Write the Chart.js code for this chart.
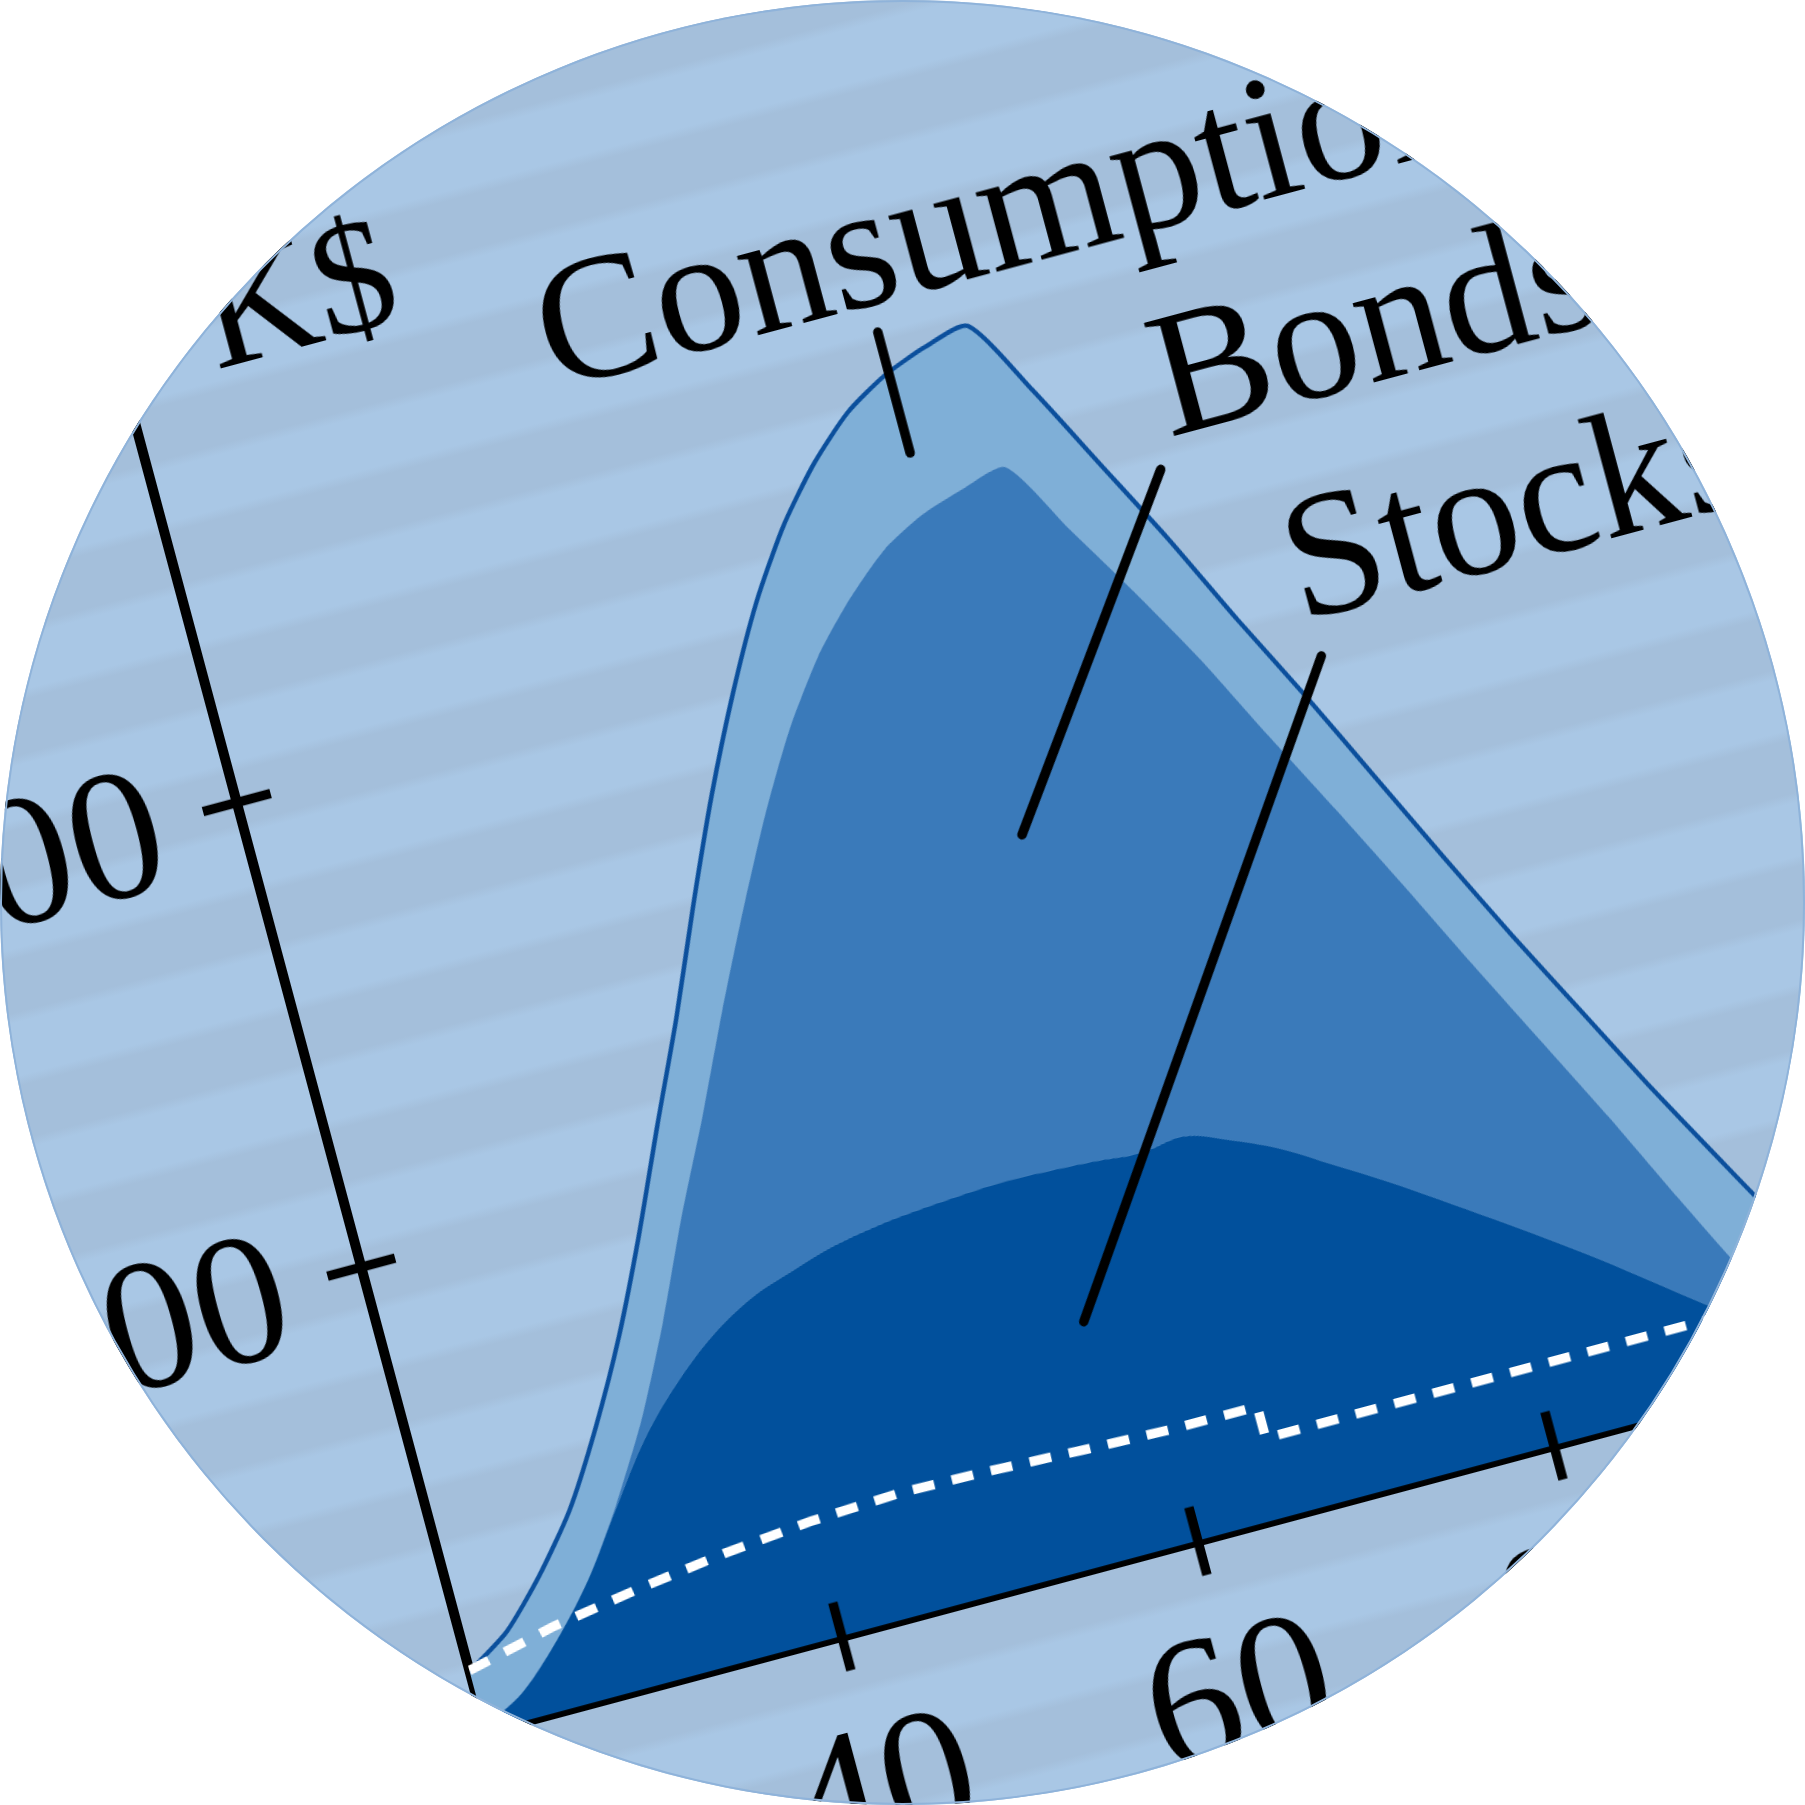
<!DOCTYPE html>
<html>
<head>
<meta charset="utf-8">
<title>Lifecycle wealth</title>
<script src="https://cdn.jsdelivr.net/npm/chart.js@4.4.0/dist/chart.umd.min.js"></script>
<style>
    html, body { margin: 0; padding: 0; background: #fff; }
    #disc {
        position: absolute; left: 0; top: 0;
        width: 1805px; height: 1805px;
        border-radius: 50%; overflow: hidden;
        background: #a6c3e0;
    }
    #frame {
        position: absolute; left: 0; top: 0;
        width: 2000px; height: 2050px;
        transform-origin: 0 0;
        transform: rotate(-15deg) translate(-300px, 0px);
        background: repeating-linear-gradient(180deg,
            #a9c7e5 0px, #a9c7e5 52px, #a4bfdb 62px, #a4bfdb 114px, #a9c7e5 124px);
    }
    #frame canvas { position: absolute; left: 0; top: 0; }
    #rim {
        position: absolute; left: 0; top: 0;
        width: 1805px; height: 1805px; box-sizing: border-box;
        border-radius: 50%; border: 2px solid #8fb3da;
    }
</style>
</head>
<body>
<div id="disc"><div id="frame"><canvas id="lifeChart" width="2000" height="2050"></canvas></div><div id="rim"></div></div>
<script>
// Ages (x axis)
const ages = [20, 22.5, 25, 27.5, 30, 32.5, 35, 37.5, 40, 42.5, 45, 47.5, 50, 52.5, 55, 57.5,
              60, 62.5, 65, 67.5, 70, 72.5, 75, 77.5, 80, 82.5, 85, 87.5, 90, 92.5, 95, 97.5, 100];

// Stacked layers, K$
const stocks = [1, 6, 14.5, 25, 38, 50.5, 60, 67.5, 72.8, 76, 78.8, 80.5, 81.5, 82.2, 82.6, 82.3,
                81.8, 81, 82, 78.5, 74, 68, 62, 55.5, 48.8, 42, 35, 27.5, 20, 13, 7, 3, 0];
const bonds = [0, 0, 0, 0, 0.5, 3.5, 12.5, 25.5, 39.2, 56, 72.2, 88.5, 103.5, 115.8, 125.4, 133.7,
               139.2, 143, 144, 131.5, 120, 109, 96, 84, 71.7, 59, 47, 35.5, 23, 11, 3, 0, 0];
const consumption = [12, 13, 14, 15, 16.5, 18, 19, 19.5, 21, 23, 25, 26, 27, 28, 29, 29.5,
                     30, 30.5, 30.4, 30, 27.5, 26, 25, 24.5, 23.5, 23, 22.5, 23, 24.5, 26, 23, 16, 7];

// Dashed income line
const incomeAges = [20, 25, 30, 35, 40, 45, 50, 55, 60, 65, 65, 70, 80, 90, 100, 105];
const income = [13.2, 17.5, 20.5, 23, 24.8, 25.7, 25.3, 24.5, 23.9, 23.8, 17, 17, 17, 17, 17, 17];

// Axis ticks
const xTicks = [40, 60, 80, 100];
const yTicks = [100, 200, 300];

// Labels with leader lines (age, K$)
const callouts = [
    { text: 'Consumption', at: [42.4, 265.8], from: [60.2, 260], to: [60.2, 234] },
    { text: 'Bonds', at: [74.0, 223.2], from: [73.1, 217.2], to: [60.7, 151.3] },
    { text: 'Stocks', at: [78.3, 179.1], from: [78.9, 171.1], to: [57.1, 50.2] }
];
const unitLabel = { text: 'K$', at: [25.0, 288] };

const serif = 'Liberation Serif';

function points(xs, ys) {
    return xs.map((x, i) => ({ x: x, y: ys[i] }));
}

// tick marks crossing the axes, leader lines and labels
const decorations = {
    id: 'decorations',
    afterDraw(chart) {
        const { ctx, chartArea, scales: { x, y } } = chart;
        ctx.save();
        ctx.strokeStyle = '#000';
        ctx.lineWidth = 9.5;
        xTicks.forEach(v => {
            const px = x.getPixelForValue(v);
            ctx.beginPath();
            ctx.moveTo(px, chartArea.bottom - 35);
            ctx.lineTo(px, chartArea.bottom + 35);
            ctx.stroke();
        });
        yTicks.forEach(v => {
            const py = y.getPixelForValue(v);
            ctx.beginPath();
            ctx.moveTo(chartArea.left - 35, py);
            ctx.lineTo(chartArea.left + 35, py);
            ctx.stroke();
        });

        ctx.lineWidth = 9.5;
        ctx.lineCap = 'round';
        ctx.fillStyle = '#000';
        ctx.textAlign = 'left';
        ctx.textBaseline = 'alphabetic';
        ctx.font = '178px "' + serif + '"';
        callouts.forEach(c => {
            ctx.beginPath();
            ctx.moveTo(x.getPixelForValue(c.from[0]), y.getPixelForValue(c.from[1]));
            ctx.lineTo(x.getPixelForValue(c.to[0]), y.getPixelForValue(c.to[1]));
            ctx.stroke();
            ctx.fillText(c.text, x.getPixelForValue(c.at[0]), y.getPixelForValue(c.at[1]));
        });
        ctx.font = '160px "' + serif + '"';
        ctx.fillText(unitLabel.text, x.getPixelForValue(unitLabel.at[0]), y.getPixelForValue(unitLabel.at[1]));
        ctx.restore();
    }
};

const ctxLife = document.getElementById('lifeChart').getContext('2d');
new Chart(ctxLife, {
    type: 'line',
    data: {
        datasets: [
            {
                label: 'Income',
                data: points(incomeAges, income),
                stack: 'income',
                borderColor: '#ffffff',
                borderWidth: 9.5,
                borderDash: [22, 18],
                tension: 0,
                fill: false
            },
            {
                label: 'Stocks',
                data: points(ages, stocks),
                backgroundColor: '#01509c',
                borderWidth: 0,
                tension: 0.35,
                fill: 'origin'
            },
            {
                label: 'Bonds',
                data: points(ages, bonds),
                backgroundColor: '#3a7aba',
                borderWidth: 0,
                tension: 0.22,
                fill: '-1'
            },
            {
                label: 'Consumption',
                data: points(ages, consumption),
                backgroundColor: '#7fafd7',
                borderColor: '#0b4f9c',
                borderWidth: 4.5,
                tension: 0.22,
                fill: '-1'
            }
        ]
    },
    options: {
        responsive: false,
        animation: false,
        layout: { padding: { top: 211.3, right: 112.4, left: 0, bottom: 0 } },
        elements: { point: { radius: 0 } },
        plugins: {
            legend: { display: false },
            tooltip: { enabled: false }
        },
        scales: {
            x: {
                type: 'linear',
                min: 20,
                max: 105,
                z: 1,
                grid: { drawOnChartArea: false, drawTicks: false },
                border: { color: '#000', width: 10 },
                ticks: {
                    stepSize: 20,
                    includeBounds: false,
                    padding: 57,
                    maxRotation: 0,
                    autoSkip: false,
                    color: '#000',
                    font: { family: serif, size: 186 },
                    callback: v => (xTicks.includes(v) ? v : '')
                },
                afterFit: s => { s.height = 251.4; }
            },
            y: {
                stacked: true,
                min: 0,
                max: 330,
                z: 1,
                grid: { drawOnChartArea: false, drawTicks: false },
                border: { color: '#000', width: 10 },
                ticks: {
                    stepSize: 100,
                    includeBounds: false,
                    padding: 80,
                    labelOffset: 14,
                    color: '#000',
                    font: { family: serif, size: 186 },
                    callback: v => (yTicks.includes(v) ? v : '')
                },
                afterFit: s => { s.width = 321; }
            }
        }
    },
    plugins: [decorations]
});
</script>
</body>
</html>
